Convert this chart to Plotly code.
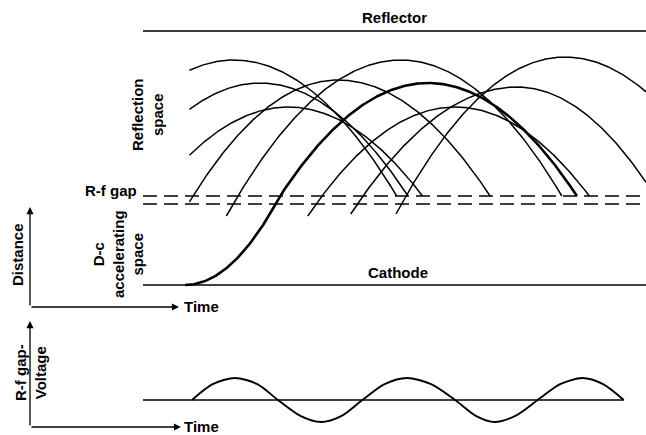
import numpy as np
import plotly.graph_objects as go

W, H = 646, 435

# ---- structural values (time in RF cycles, distance in arbitrary units; cathode = 0) ----
T_LEFT, T_RIGHT = -0.285, 2.64
T_VIEW_MIN = -0.015
CATHODE_D = 0.0
GAP_LOW_D = 8.1
GAP_HIGH_D = 8.9
REFLECTOR_D = 25.4

# ---- electron trajectories in the reflection space ----
arch_launch = [-0.703, -0.453, -0.221, 0.006, 0.267, 0.512, 0.756, 0.994, 1.244]
arch_peak_t = [0.245, 0.395, 0.56, 0.849, 1.215, 1.372, 1.53, 1.890, 2.169]
arch_peak_d = [22.5, 20.2, 17.8, 20.5, 22.5, 20.2, 17.8, 19.8, 22.8]
arch_land = [1.19, 1.256, 1.34, 1.733, 2.15, 2.238, 2.31, 2.692, 3.110]
arch_low_d = [8.9, 8.9, 8.9, 8.1, 6.9, 8.9, 6.9, 7.1, 7.1]
arch_thick = [False, False, False, False, False, True, False, False, False]

# electron shown through the d-c accelerating space (thick curve)
cathode_leave_t = -0.04

# ---- R-f gap voltage points (time, relative voltage) ----
volt_t = [0.0, 0.12, 0.25, 0.38, 0.50, 0.63, 0.75, 0.87, 0.99, 1.12, 1.25, 1.39,
          1.53, 1.65, 1.76, 1.88, 2.01, 2.14, 2.27, 2.39, 2.51]
volt_v = [0, 0.72, 1, 0.72, 0, -0.72, -1, -0.72, 0, 0.72, 1, 0.72,
          0, -0.72, -1, -0.72, 0, 0.72, 1, 0.72, 0]
VOLT_END = 2.51

# axes ranges chosen so the drawing fills the page
X_RANGE = [-192 / 172, (646 - 192) / 172]
Y_RANGE = [(285 - 435) / 10, 285 / 10]
Y2_RANGE = [(400 - 435) / 22, 400 / 22]

FONT = dict(family="Liberation Sans Narrow, Liberation Sans, Arial", size=15, color="black", weight="bold")


def arch_curve(launch, pt, pd, land, low_d, n=300):
    h = pd - GAP_HIGH_D
    L = pt - launch
    frac = np.sqrt(1 + (GAP_HIGH_D - low_d) / h)
    t0 = max(pt - L * frac, T_VIEW_MIN)
    t1 = min(land, T_RIGHT)
    t = np.linspace(t0, t1, n)
    R = land - pt
    d = np.where(t <= pt,
                 GAP_HIGH_D + h * (1 - ((pt - t) / L) ** 2),
                 GAP_HIGH_D + h * (1 - ((t - pt) / R) ** 2))
    return t, d


fig = go.Figure()

# structural lines
fig.add_trace(go.Scatter(x=[T_LEFT, T_RIGHT], y=[REFLECTOR_D] * 2, mode="lines",
                         line=dict(color="black", width=1.5), showlegend=False))
fig.add_trace(go.Scatter(x=[T_LEFT, T_RIGHT], y=[CATHODE_D] * 2, mode="lines",
                         line=dict(color="black", width=1.5), showlegend=False))
for gd in (GAP_HIGH_D, GAP_LOW_D):
    fig.add_trace(go.Scatter(x=[T_LEFT, T_RIGHT], y=[gd] * 2, mode="lines",
                             line=dict(color="black", width=1.5, dash="14px,7px"), showlegend=False))

# trajectories
for i in range(len(arch_launch)):
    t, d = arch_curve(arch_launch[i], arch_peak_t[i], arch_peak_d[i], arch_land[i], arch_low_d[i])
    if arch_thick[i]:
        ta = np.linspace(cathode_leave_t, arch_launch[i], 80)
        da = GAP_HIGH_D * ((ta - cathode_leave_t) / (arch_launch[i] - cathode_leave_t)) ** 2
        t = np.concatenate([ta, t])
        d = np.concatenate([da, d])
    fig.add_trace(go.Scatter(x=t, y=d, mode="lines",
                             line=dict(color="black", width=2.6 if arch_thick[i] else 1.5),
                             showlegend=False))

# voltage
fig.add_trace(go.Scatter(x=[T_LEFT, VOLT_END], y=[0, 0], yaxis="y2", mode="lines",
                         line=dict(color="black", width=1.5), showlegend=False))
fig.add_trace(go.Scatter(x=volt_t, y=volt_v, yaxis="y2", mode="lines",
                         line=dict(color="black", width=1.9, shape="spline", smoothing=0.8),
                         showlegend=False))


def px(x):
    return x / W


def py(y):
    return 1 - y / H


ann = []


def text(s, x, y, angle=0, xanchor="center"):
    ann.append(dict(text=s, x=px(x), y=py(y), xref="paper", yref="paper", showarrow=False,
                    textangle=angle, font=FONT, xanchor=xanchor, yanchor="middle", align="center"))


def arrow(x0, y0, x1, y1):
    ann.append(dict(text="", x=px(x1), y=py(y1), xref="paper", yref="paper", showarrow=True,
                    ax=x0 - x1, ay=y0 - y1, arrowhead=2, arrowsize=1.1, arrowwidth=1.3,
                    arrowcolor="black", standoff=0, startstandoff=0))


text("Reflector", 395, 18)
text("Cathode", 398, 272)
text("Reflection<br>space", 147, 115, -90)
text("R-f gap", 139, 190, 0, "right")
text("D-c<br>accelerating<br>space", 118, 254, -90)
text("Distance", 18, 255, -90)
text("Time", 182, 306, 0, "left")
text("Time", 182, 426, 0, "left")
text("R-f gap-<br>Voltage", 30, 373, -90)

arrow(30, 307, 30, 207)
arrow(30, 307, 179, 307)
arrow(30, 427, 30, 321)
arrow(30, 427, 181, 427)

fig.update_layout(
    width=W, height=H, margin=dict(l=0, r=0, t=0, b=0),
    paper_bgcolor="white", plot_bgcolor="white",
    xaxis=dict(range=X_RANGE, visible=False, fixedrange=True),
    yaxis=dict(range=Y_RANGE, visible=False, domain=[0, 1]),
    yaxis2=dict(range=Y2_RANGE, visible=False, overlaying="y", domain=[0, 1]),
    annotations=ann, showlegend=False,
)

fig.write_html("out.html", config={"displayModeBar": False},
               post_script="document.body.style.margin='0';document.body.style.overflow='hidden';")
